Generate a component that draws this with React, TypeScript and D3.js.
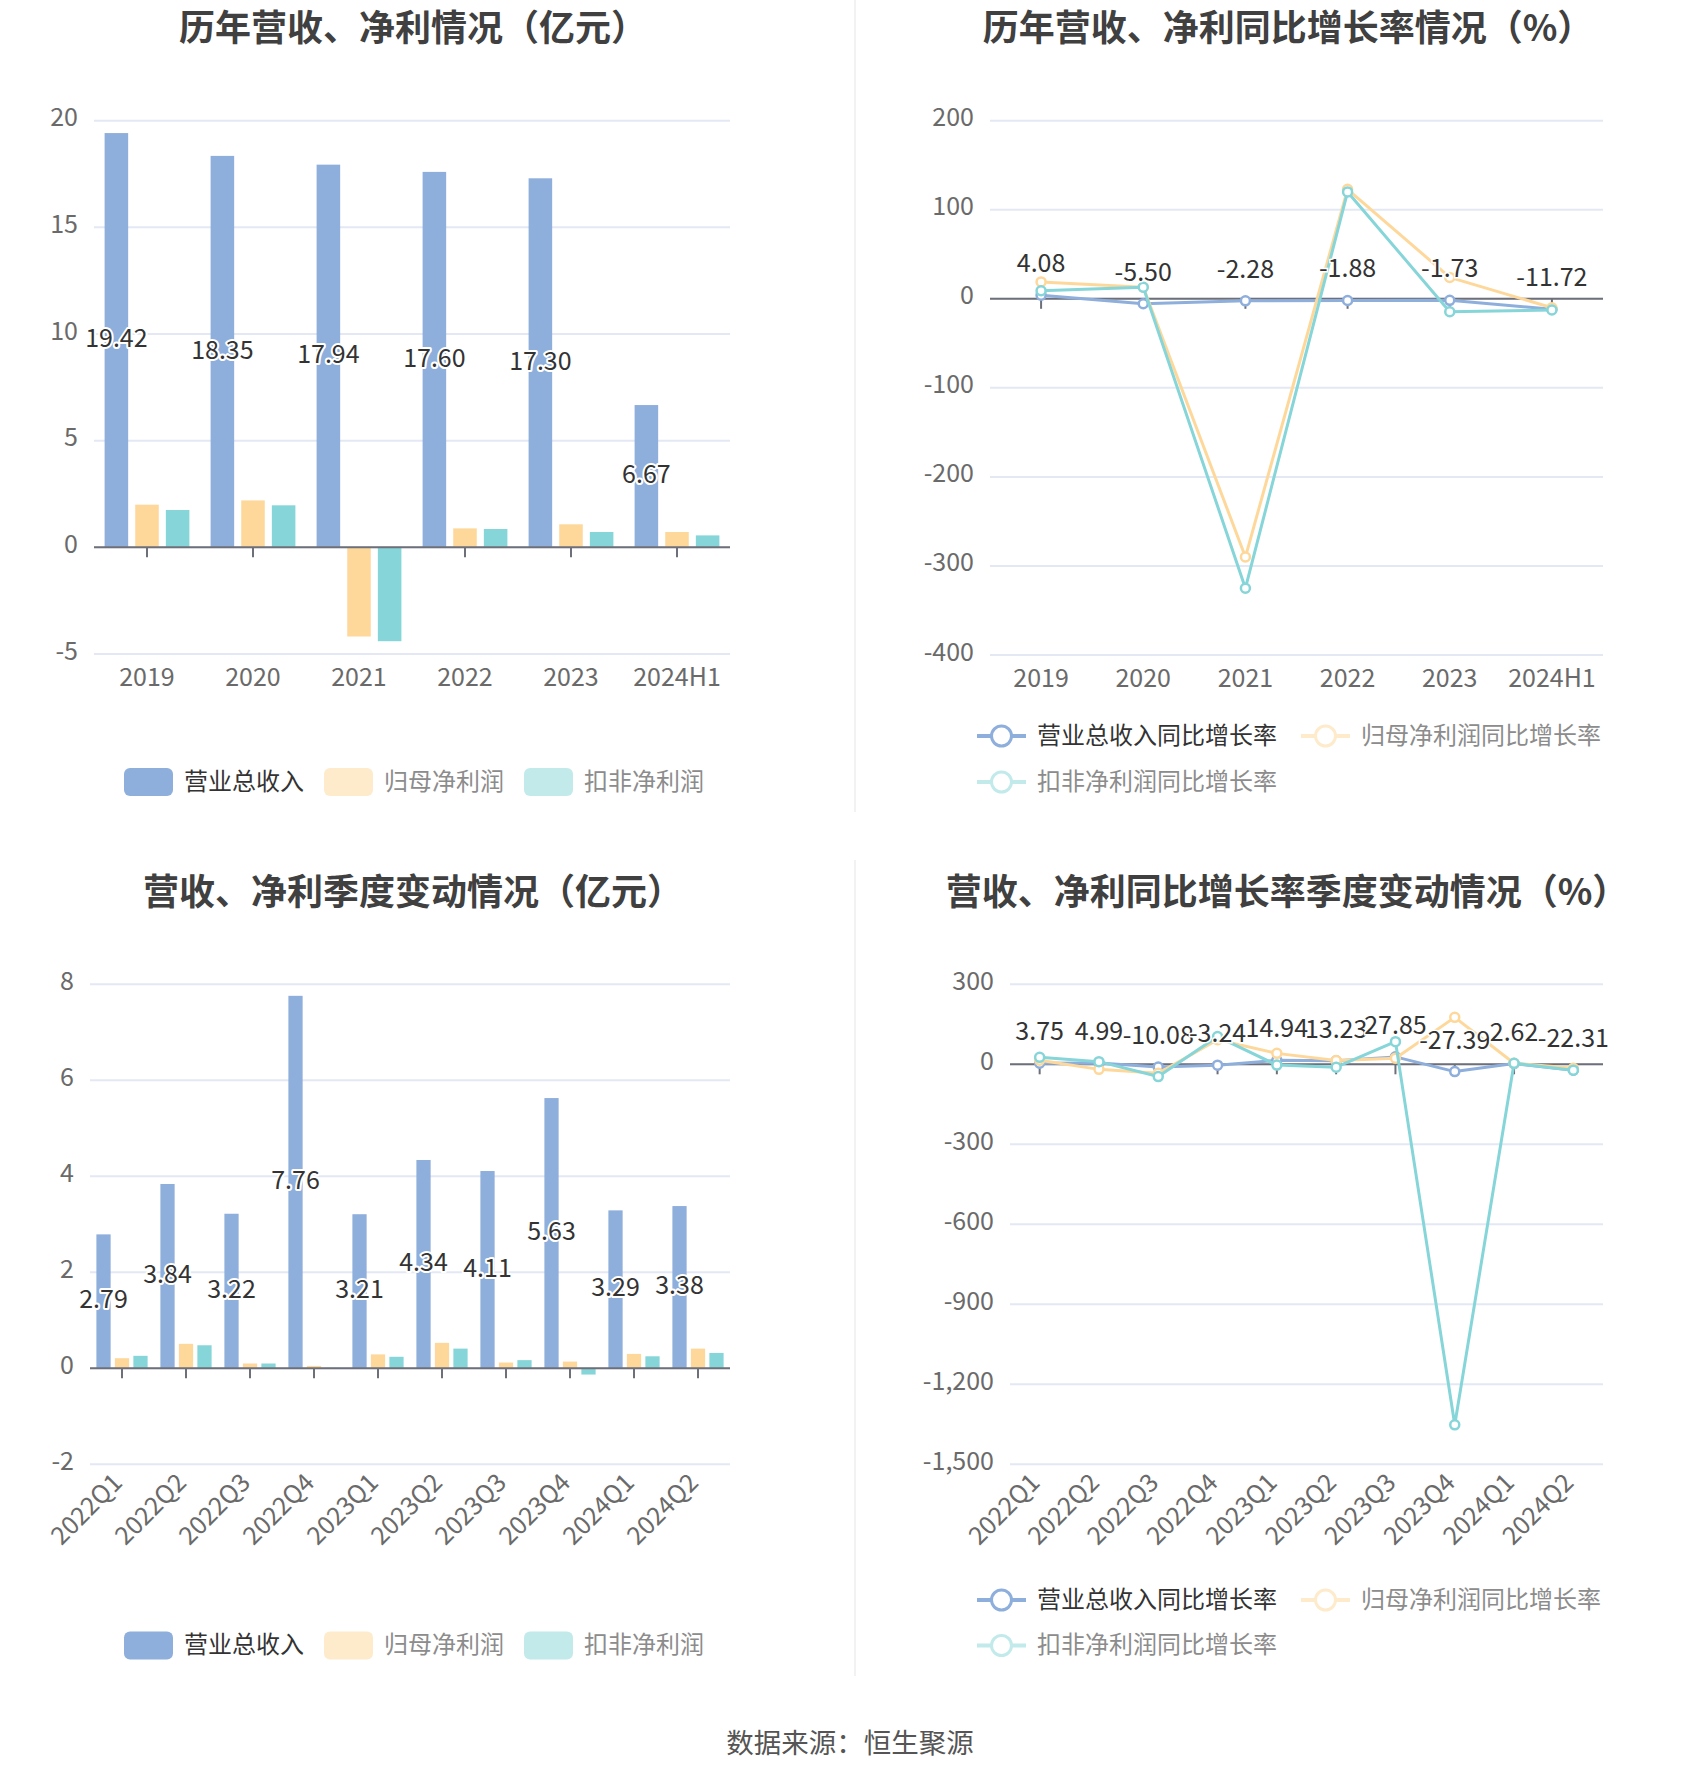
import React from 'react';
import * as d3 from 'd3';

// ---------- data ----------
const annualCats = ['2019', '2020', '2021', '2022', '2023', '2024H1'];
const annualRevenue = [19.42, 18.35, 17.94, 17.6, 17.3, 6.67];
const annualNetProfit = [2.0, 2.2, -4.18, 0.89, 1.08, 0.72];
const annualDeductProfit = [1.75, 1.97, -4.4, 0.86, 0.72, 0.56];
const annualTicks = [-5, 0, 5, 10, 15, 20];

const annualRevenueYoY = [4.08, -5.5, -2.28, -1.88, -1.73, -11.72];
const annualNetProfitYoY = [19, 13, -290, 123, 24, -10];
const annualDeductYoY = [9, 13, -325, 120, -14.5, -12.6];
const annualYoYTicks = [-400, -300, -200, -100, 0, 100, 200];

const quarterCats = ['2022Q1', '2022Q2', '2022Q3', '2022Q4', '2023Q1', '2023Q2', '2023Q3', '2023Q4', '2024Q1', '2024Q2'];
const quarterRevenue = [2.79, 3.84, 3.22, 7.76, 3.21, 4.34, 4.11, 5.63, 3.29, 3.38];
const quarterNetProfit = [0.21, 0.51, 0.1, 0.05, 0.29, 0.53, 0.12, 0.14, 0.3, 0.41];
const quarterDeductProfit = [0.26, 0.48, 0.1, 0.01, 0.24, 0.41, 0.17, -0.13, 0.25, 0.32];
const quarterTicks = [-2, 0, 2, 4, 6, 8];

const quarterRevenueYoY = [3.75, 4.99, -10.08, -3.24, 14.94, 13.23, 27.85, -27.39, 2.62, -22.31];
const quarterNetProfitYoY = [15, -19, -34, 92, 41, 14, 23, 176, 4, -15];
const quarterDeductYoY = [26, 10, -46, 104, -3, -11, 85, -1352, 4, -22];
const quarterYoYTicks = [-1500, -1200, -900, -600, -300, 0, 300];

const barLegendNames = ['营业总收入', '归母净利润', '扣非净利润'];
const lineLegendNames = ['营业总收入同比增长率', '归母净利润同比增长率', '扣非净利润同比增长率'];

// ---------- styles ----------
const FONT = '"Noto Sans CJK SC", "Noto Sans", sans-serif';
const COLORS = ['#8EAEDC', '#FED89B', '#86D5D8'];
const PALE = ['#8EAEDC', '#FEEBCB', '#C3EAEB'];
const LEGEND_TEXT = ['#333333', '#8c8c8c', '#8c8c8c'];
const AXIS_COLOR = '#6E7079';
const GRID_COLOR = '#E3E8F4';
const LABEL_COLOR = '#6a6a6a';
const AXIS_FS = 25;
const DY = -3;

const fmt = (v: number) => v.toLocaleString('en-US');

type BarProps = {
  title: string; titleX: number; titleY: number;
  cats: string[]; series: number[][]; ticks: number[];
  x0: number; x1: number; yTop: number; yBottom: number;
  rotate: boolean; legendY: number;
};

function BarChart(p: BarProps) {
  const x = d3.scaleBand().domain(p.cats).range([p.x0, p.x1]);
  const y = d3.scaleLinear().domain([p.ticks[0], p.ticks[p.ticks.length - 1]]).range([p.yBottom, p.yTop]);
  const bw = x.bandwidth();
  const w = (bw * 0.8) / 3.6;
  const step = w * 1.3;
  const y0 = y(0);
  const legendX = [124, 324, 524];
  return (
    <g>
      <text x={p.titleX} y={p.titleY} textAnchor="middle" dominantBaseline="central" fontSize={36} fontWeight={700} fill="#404040">{p.title}</text>
      {p.ticks.map((t) => (
        <g key={t}>
          <line x1={p.x0} x2={p.x1} y1={y(t)} y2={y(t)} stroke={GRID_COLOR} strokeWidth={2} />
          <text x={p.x0 - 16} y={y(t) - 5.5} textAnchor="end" dominantBaseline="central" fontSize={AXIS_FS} fill={LABEL_COLOR}>{fmt(t)}</text>
        </g>
      ))}
      {p.cats.map((c) => (
        <line key={c} x1={x(c)! + bw / 2} x2={x(c)! + bw / 2} y1={y0} y2={y0 + 10} stroke={AXIS_COLOR} strokeWidth={2} />
      ))}
      {p.series.map((s, si) =>
        s.map((v, i) => {
          const cx = x(p.cats[i])! + bw / 2 + (si - 1) * step;
          return (
            <rect key={si + '-' + i} x={cx - w / 2} width={w} y={Math.min(y(v), y0)} height={Math.abs(y(v) - y0)} fill={COLORS[si]} />
          );
        })
      )}
      <line x1={p.x0} x2={p.x1} y1={y0} y2={y0} stroke={AXIS_COLOR} strokeWidth={2} />
      {p.series[0].map((v, i) => {
        const cx = x(p.cats[i])! + bw / 2 - step;
        return (
          <text key={'l' + i} x={cx} y={(y(v) + y0) / 2 - 4} textAnchor="middle" dominantBaseline="central" fontSize={25} fill="#333" stroke="#fff" strokeWidth={4} paintOrder="stroke" strokeLinejoin="round">{v.toFixed(2)}</text>
        );
      })}
      {p.cats.map((c) => {
        const cx = x(c)! + bw / 2;
        return p.rotate ? (
          <text key={'x' + c} transform={`translate(${cx - 6},${p.yBottom + 12}) rotate(-45)`} textAnchor="end" dominantBaseline="central" fontSize={AXIS_FS} fill={LABEL_COLOR}>{c}</text>
        ) : (
          <text key={'x' + c} x={cx} y={p.yBottom + 24 + DY} textAnchor="middle" dominantBaseline="central" fontSize={AXIS_FS} fill={LABEL_COLOR}>{c}</text>
        );
      })}
      {barLegendNames.map((n, i) => (
        <g key={n}>
          <rect x={legendX[i]} y={p.legendY - 14} width={49} height={28} rx={6} fill={PALE[i]} />
          <text x={legendX[i] + 60} y={p.legendY + DY} dominantBaseline="central" fontSize={24} fill={LEGEND_TEXT[i]}>{n}</text>
        </g>
      ))}
    </g>
  );
}

type LineProps = {
  title: string; titleX: number; titleY: number;
  cats: string[]; series: number[][]; ticks: number[];
  x0: number; x1: number; yTop: number; yBottom: number;
  rotate: boolean; legendY1: number; legendY2: number;
};

function LineChart(p: LineProps) {
  const x = d3.scaleBand().domain(p.cats).range([p.x0, p.x1]);
  const y = d3.scaleLinear().domain([p.ticks[0], p.ticks[p.ticks.length - 1]]).range([p.yBottom, p.yTop]);
  const bw = x.bandwidth();
  const cx = (c: string) => x(c)! + bw / 2;
  const y0 = y(0);
  const line = d3.line<number>().x((_, i) => cx(p.cats[i])).y((v) => y(v));
  const legendPos = [
    { x: 977, y: p.legendY1 },
    { x: 1301, y: p.legendY1 },
    { x: 977, y: p.legendY2 },
  ];
  return (
    <g>
      <text x={p.titleX} y={p.titleY} textAnchor="middle" dominantBaseline="central" fontSize={36} fontWeight={700} fill="#404040">{p.title}</text>
      {p.ticks.map((t) => (
        <g key={t}>
          <line x1={p.x0} x2={p.x1} y1={y(t)} y2={y(t)} stroke={GRID_COLOR} strokeWidth={2} />
          <text x={p.x0 - 16} y={y(t) - 5.5} textAnchor="end" dominantBaseline="central" fontSize={AXIS_FS} fill={LABEL_COLOR}>{fmt(t)}</text>
        </g>
      ))}
      <line x1={p.x0} x2={p.x1} y1={y0} y2={y0} stroke={AXIS_COLOR} strokeWidth={2} />
      {p.cats.map((c) => (
        <line key={c} x1={cx(c)} x2={cx(c)} y1={y0} y2={y0 + 10} stroke={AXIS_COLOR} strokeWidth={2} />
      ))}
      {p.series.map((s, si) => (
        <g key={si}>
          <path d={line(s)!} fill="none" stroke={COLORS[si]} strokeWidth={3} strokeLinejoin="round" />
          {s.map((v, i) => (
            <circle key={i} cx={cx(p.cats[i])} cy={y(v)} r={4.5} fill="#fff" stroke={COLORS[si]} strokeWidth={2.5} />
          ))}
        </g>
      ))}
      {p.series[0].map((v, i) => (
        <text key={'l' + i} x={cx(p.cats[i])} y={y(v) - 31 + DY} textAnchor="middle" dominantBaseline="central" fontSize={25} fill="#333" stroke="#fff" strokeWidth={3} paintOrder="stroke">{v.toFixed(2)}</text>
      ))}
      {p.cats.map((c) =>
        p.rotate ? (
          <text key={'x' + c} transform={`translate(${cx(c) - 6},${p.yBottom + 12}) rotate(-45)`} textAnchor="end" dominantBaseline="central" fontSize={AXIS_FS} fill={LABEL_COLOR}>{c}</text>
        ) : (
          <text key={'x' + c} x={cx(c)} y={p.yBottom + 24 + DY} textAnchor="middle" dominantBaseline="central" fontSize={AXIS_FS} fill={LABEL_COLOR}>{c}</text>
        )
      )}
      {lineLegendNames.map((n, i) => (
        <g key={n}>
          <line x1={legendPos[i].x} x2={legendPos[i].x + 49} y1={legendPos[i].y} y2={legendPos[i].y} stroke={PALE[i]} strokeWidth={4} />
          <circle cx={legendPos[i].x + 24.5} cy={legendPos[i].y} r={10} fill="#fff" stroke={PALE[i]} strokeWidth={3} />
          <text x={legendPos[i].x + 60} y={legendPos[i].y + DY} dominantBaseline="central" fontSize={24} fill={LEGEND_TEXT[i]}>{n}</text>
        </g>
      ))}
    </g>
  );
}

export default function App() {
  return (
    <svg width={1700} height={1782} style={{ position: 'absolute', left: 0, top: 0, background: '#fff' }} fontFamily={FONT}>
      <rect x={0} y={0} width={1700} height={1782} fill="#fff" />
      <line x1={855} x2={855} y1={0} y2={812} stroke="#eeeeee" strokeWidth={1.5} />
      <line x1={855} x2={855} y1={860} y2={1676} stroke="#eeeeee" strokeWidth={1.5} />
      <BarChart title="历年营收、净利情况（亿元）" titleX={413} titleY={25}
        cats={annualCats} series={[annualRevenue, annualNetProfit, annualDeductProfit]} ticks={annualTicks}
        x0={94} x1={730} yTop={120.7} yBottom={654} rotate={false} legendY={782} />
      <LineChart title="历年营收、净利同比增长率情况（%）" titleX={1288} titleY={25}
        cats={annualCats} series={[annualRevenueYoY, annualNetProfitYoY, annualDeductYoY]} ticks={annualYoYTicks}
        x0={990} x1={1603} yTop={120.7} yBottom={655} rotate={false} legendY1={736} legendY2={782} />
      <BarChart title="营收、净利季度变动情况（亿元）" titleX={413} titleY={889}
        cats={quarterCats} series={[quarterRevenue, quarterNetProfit, quarterDeductProfit]} ticks={quarterTicks}
        x0={90} x1={730} yTop={984.3} yBottom={1464.3} rotate={true} legendY={1645.5} />
      <LineChart title="营收、净利同比增长率季度变动情况（%）" titleX={1287} titleY={889}
        cats={quarterCats} series={[quarterRevenueYoY, quarterNetProfitYoY, quarterDeductYoY]} ticks={quarterYoYTicks}
        x0={1010} x1={1603} yTop={984.3} yBottom={1464.3} rotate={true} legendY1={1600} legendY2={1645.5} />
      <text x={850} y={1741} textAnchor="middle" dominantBaseline="central" fontSize={27.5} fill="#555">数据来源：恒生聚源</text>
    </svg>
  );
}
